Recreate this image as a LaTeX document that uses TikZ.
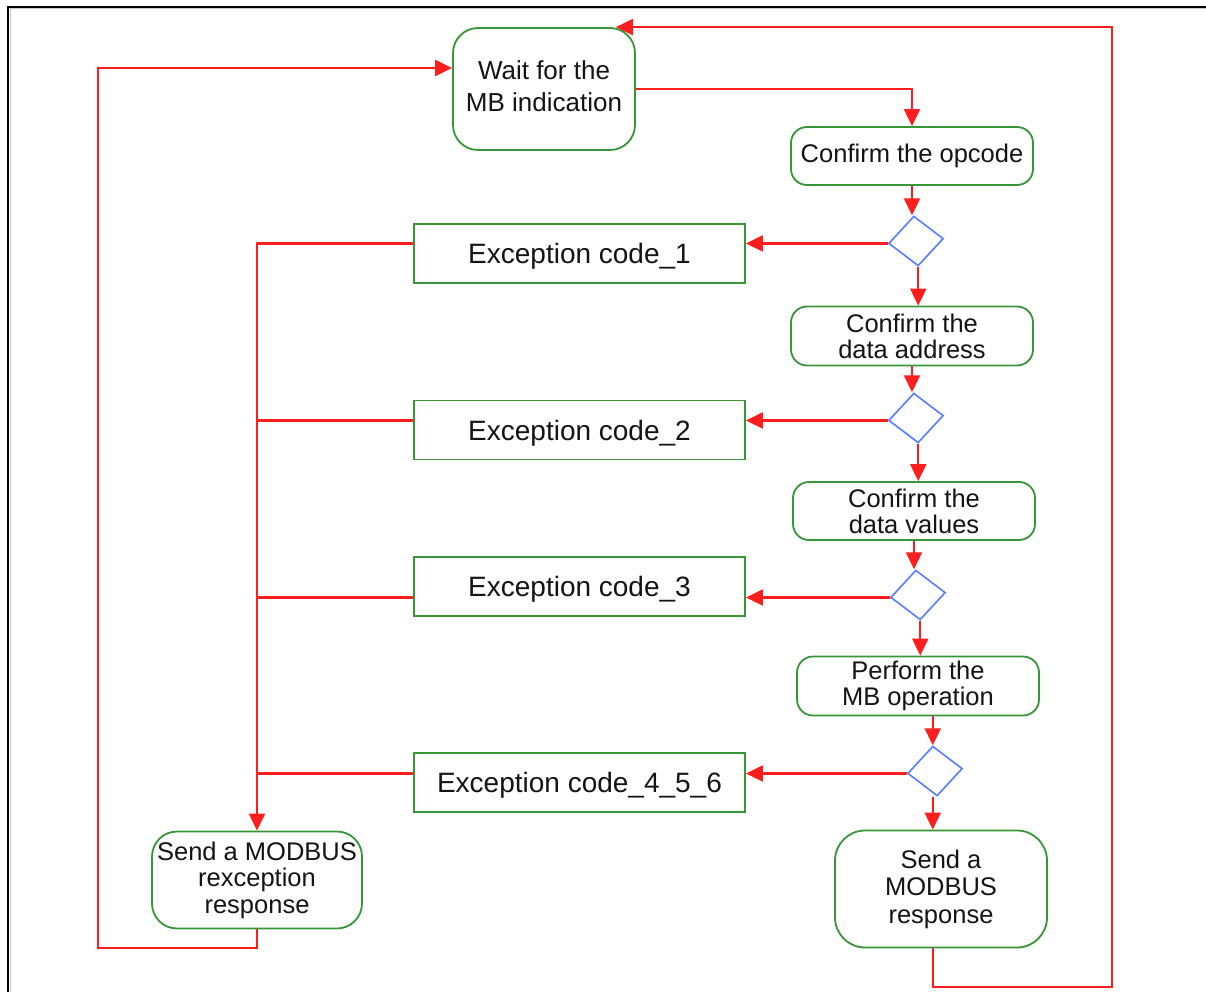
\documentclass[tikz,border=0pt]{standalone}
\usepackage{fontspec}
\setmainfont{Liberation Sans}
\usetikzlibrary{shapes.geometric,arrows.meta}
\definecolor{flowred}{RGB}{255,30,30}
\definecolor{boxgreen}{RGB}{55,150,55}
\definecolor{decblue}{RGB}{85,125,255}
\definecolor{inkgray}{RGB}{20,20,20}

\begin{document}
\begin{tikzpicture}[x=1pt,y=-1pt,
  procbox/.style={draw=boxgreen, line width=1.8pt, fill=white,
    rounded corners=#1, align=center, text=inkgray, inner sep=0pt,
    font=\fontsize{25.5}{26}\selectfont},
  procbox/.default=16pt,
  excbox/.style={draw=boxgreen, line width=1.8pt, fill=white,
    text=inkgray, inner sep=0pt, minimum width=331pt, minimum height=59pt,
    text depth=0pt, font=\fontsize{28}{30}\selectfont},
  decision/.style={diamond, draw=decblue, line width=1.6pt, fill=white,
    minimum width=55pt, minimum height=50pt, inner sep=0pt, rotate=5},
  flow/.style={draw=flowred, line width=2.1pt},
  arr/.style={flow, -{Triangle[length=17pt, width=16pt]}}
]
\useasboundingbox (0,0) rectangle (1206,992);

% page frame
\draw[gray!45, line width=1pt] (10,992) -- (10,9) -- (1206,9);
\draw[black, line width=1.6pt] (8,992) -- (8,7) -- (1206,7);

% main sequence
\node[procbox=25pt, minimum width=182pt, minimum height=122pt, text depth=6pt,
      font=\fontsize{26}{32}\selectfont] (wait) at (544,89) {Wait for the\\MB indication};
\node[procbox, minimum width=242pt, minimum height=58pt] (opcode) at (912,156) {Confirm the opcode};
\node[decision] (d1) at (916,241) {};
\node[procbox, minimum width=242pt, minimum height=59pt] (address) at (912,336) {Confirm the\\data address};
\node[decision] (d2) at (916,418) {};
\node[procbox, minimum width=242pt, minimum height=58pt] (values) at (914,511) {Confirm the\\data values};
\node[decision] (d3) at (918,595) {};
\node[procbox, minimum width=242pt, minimum height=59pt] (perform) at (918,686) {Perform the\\MB operation};
\node[decision] (d4) at (935,771) {};
\node[procbox=30pt, minimum width=212pt, minimum height=117pt,
      font=\fontsize{25.5}{27.5}\selectfont] (sendresp) at (941,889) {Send a\\MODBUS\\response};

% exception branch
\node[excbox] (exc1) at (579.5,253.5) {Exception code\_1};
\node[excbox] (exc2) at (579.5,430) {Exception code\_2};
\node[excbox] (exc3) at (579.5,586.5) {Exception code\_3};
\node[excbox] (exc4) at (579.5,782.5) {Exception code\_4\_5\_6};
\node[procbox=25pt, minimum width=210pt, minimum height=97pt,
      font=\fontsize{25.5}{26.5}\selectfont] (sendexc) at (257,880) {Send a MODBUS\\rexception\\response};

\coordinate (rloop) at (1112,987);
\coordinate (lloop) at (98,948);

% forward path
\draw[arr] (wait.east) -| (opcode.north);
\draw[arr] (opcode.south) -- (opcode.south |- d1.north);
\draw[arr] (d1.south) -- (d1.south |- address.north);
\draw[arr] (address.south) -- (address.south |- d2.north);
\draw[arr] (d2.south) -- (d2.south |- values.north);
\draw[arr] (values.south) -- (values.south |- d3.north);
\draw[arr] (d3.south) -- (d3.south |- perform.north);
\draw[arr] (d4.north |- perform.south) -- (d4.north);
\draw[arr] (d4.north |- d4.south) -- (d4.north |- sendresp.north);

% decisions to exception codes
\draw[arr] (d1.west) -- (d1.west -| exc1.east);
\draw[arr] (d2.west) -- (d2.west -| exc2.east);
\draw[arr] (d3.west) -- (d3.west -| exc3.east);
\draw[arr] (d4.west) -- (d4.west -| exc4.east);

% exception codes collected into the exception response
\draw[arr] (d1.west -| exc1.west) -| (sendexc.north);
\draw[flow] (d2.west -| exc2.west) -- (d2.west -| sendexc.north);
\draw[flow] (d3.west -| exc3.west) -- (d3.west -| sendexc.north);
\draw[flow] (d4.west -| exc4.west) -- (d4.west -| sendexc.north);

% return loops
\draw[arr] (sendexc.south) |- (lloop) |- ([yshift=21pt]wait.west);
\draw[arr] (d4.north |- sendresp.south) |- (rloop) |- ([xshift=-20pt]wait.north east);
\end{tikzpicture}
\end{document}
